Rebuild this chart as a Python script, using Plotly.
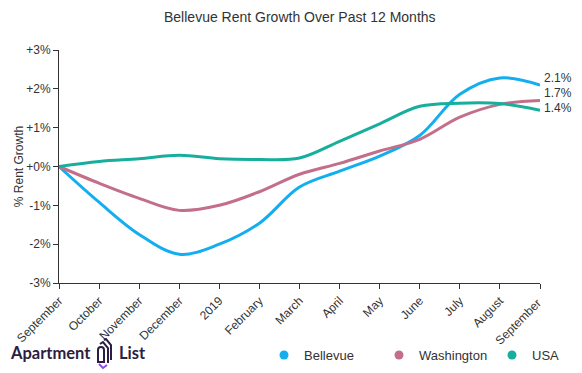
import plotly.graph_objects as go

months = ["September", "October", "November", "December", "2019", "February", "March",
          "April", "May", "June", "July", "August", "September "]
bellevue = [0.0, -0.92, -1.75, -2.26, -2.0, -1.46, -0.53, -0.12, 0.27, 0.8, 1.86, 2.28, 2.1]
washington = [0.0, -0.43, -0.82, -1.13, -1.0, -0.65, -0.2, 0.08, 0.4, 0.7, 1.27, 1.6, 1.7]
usa = [0.0, 0.13, 0.2, 0.29, 0.2, 0.18, 0.22, 0.65, 1.1, 1.55, 1.63, 1.62, 1.45]
end_labels = ["2.1%", "1.7%", "1.4%"]
series_names = ["Bellevue", "Washington", "USA"]
colors = ["#12aef0", "#c36f8a", "#17ae9e"]
yticks = [-3, -2, -1, 0, 1, 2, 3]
ytick_text = ["-3%", "-2%", "-1%", "+0%", "+1%", "+2%", "+3%"]

OFF = 8  # page body margin
FW, FH = 582 - OFF, 373 - OFF
# plot area in window pixels
L, R, T, B = 59, 540, 50, 283
W, H = R - L, B - T

def px(xp):
    return (xp - L) / W
def py(yp):
    return (B - yp) / H

legend_ids = ["legend", "legend2", "legend3"]
legend_dot_x = [285, 400, 513]

fig = go.Figure()
for name, vals, c in zip(series_names, [bellevue, washington, usa], colors):
    fig.add_trace(go.Scatter(x=months, y=vals, mode="lines",
                             line=dict(color=c, width=3, shape="spline", smoothing=1.0),
                             showlegend=False, hoverinfo="skip"))
for name, c, lid in zip(series_names, colors, legend_ids):
    fig.add_trace(go.Scatter(x=[None], y=[None], mode="markers", name=name, legend=lid,
                             marker=dict(color=c, size=9)))

label_pix_y = [78, 93, 108]
for txt, ly in zip(end_labels, label_pix_y):
    fig.add_annotation(xref="paper", yref="paper", x=px(542), y=py(ly), text=txt, showarrow=False,
                       xanchor="left", yanchor="middle", font=dict(size=12, color="#333"))

fig.add_annotation(xref="paper", yref="paper", x=0.5, y=py(17), yanchor="middle",
                   text="Bellevue Rent Growth Over Past 12 Months",
                   showarrow=False, font=dict(size=14, color="#333"))

logo_c = "#2b1d43"
fig.add_annotation(xref="paper", yref="paper", x=px(OFF), y=py(353), xanchor="left", yanchor="middle",
                   text="<b>Apartment</b>", showarrow=False, font=dict(size=16.5, color=logo_c, family="Lato"))
fig.add_annotation(xref="paper", yref="paper", x=px(117), y=py(353), xanchor="left", yanchor="middle",
                   text="<b>List</b>", showarrow=False, font=dict(size=16.5, color=logo_c, family="Lato"))

def path(segs, dx=1):
    s = ""
    for cmd, pts in segs:
        if cmd == "Z":
            s += "Z"
            continue
        s += cmd + " ".join(f"{px(a + dx):.5f},{py(b):.5f}" for a, b in pts) + " "
    return s

icon_paths = [
    [("M", [(97, 362)]), ("L", [(97, 350)]), ("Q", [(97, 347), (100, 347)]),
     ("Q", [(103, 347), (103, 350)]), ("L", [(103, 362)]), ("Z", [])],
    [("M", [(99, 344)]), ("L", [(102, 342)]), ("L", [(107, 348)]), ("L", [(107, 363)])],
    [("M", [(103, 340)]), ("L", [(105, 339)]), ("L", [(110, 345)]), ("L", [(110, 360)])],
]
for p in icon_paths:
    fig.add_shape(type="path", xref="paper", yref="paper", path=path(p), line=dict(color=logo_c, width=2))
fig.add_shape(type="path", xref="paper", yref="paper",
              path=path([("M", [(98, 364)]), ("L", [(102, 368)]), ("L", [(106, 365)])]),
              line=dict(color="#8a4fe0", width=2))

legend_common = dict(orientation="h", xanchor="left", yref="container", y=1 - (355 - OFF) / FH,
                     yanchor="middle", font=dict(size=13, color="#333"), bgcolor="rgba(0,0,0,0)")
legends = {lid: dict(xref="container", x=(dx - 21 - OFF) / FW, **legend_common)
           for lid, dx in zip(legend_ids, legend_dot_x)}

fig.update_layout(
    width=FW, height=FH, margin=dict(l=L - OFF, r=FW - (R - OFF), t=T - OFF, b=FH - (B - OFF)),
    paper_bgcolor="white", plot_bgcolor="white",
    font=dict(family="Liberation Sans, Arial", size=12, color="#333"),
    **legends,
    xaxis=dict(showline=True, linecolor="#333", ticks="outside", tickcolor="#333", ticklen=5,
               tickangle=-45, showgrid=False, range=[0, 12], zeroline=False, automargin=False,
               tickfont=dict(size=12, color="#333")),
    yaxis=dict(showline=True, linecolor="#333", ticks="outside", tickcolor="#333", ticklen=5,
               range=[-3, 3], tickvals=yticks, ticktext=ytick_text, showgrid=False, zeroline=False,
               automargin=False,
               title=dict(text="% Rent Growth", font=dict(size=12, color="#333"), standoff=0),
               tickfont=dict(size=12, color="#333")),
)
fig.write_html("out.html")
